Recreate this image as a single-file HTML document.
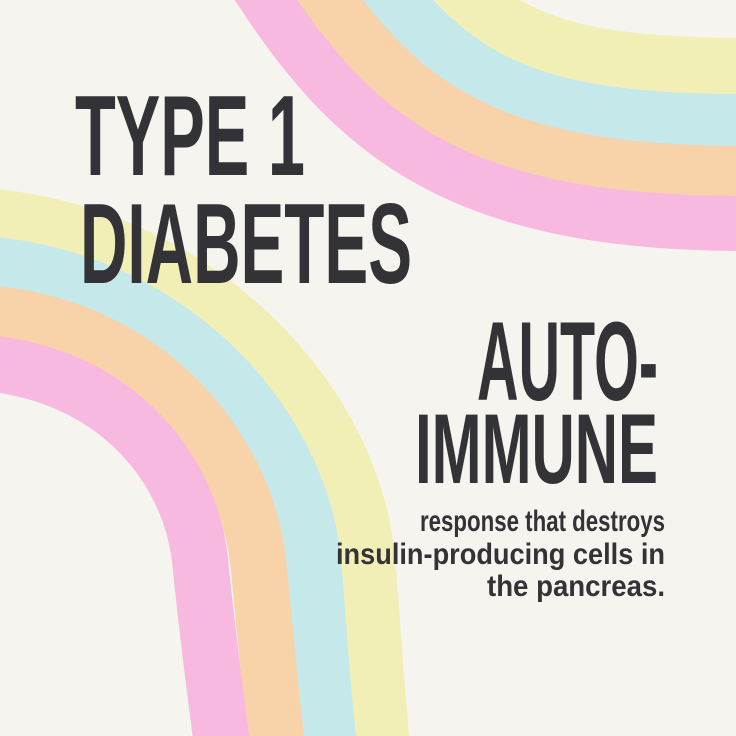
<!DOCTYPE html>
<html><head><meta charset="utf-8"><style>
html,body{margin:0;padding:0;background:#f6f4ee;}
svg{display:block}
.h{font-family:"Liberation Sans Narrow","Liberation Sans",sans-serif;font-weight:bold;fill:#333236}
.s{font-family:"Liberation Sans",sans-serif;font-weight:bold;fill:#333236;font-size:30px}
</style></head><body>
<svg width="736" height="736" viewBox="0 0 736 736">
<rect width="736" height="736" fill="#f6f4ee"/>
<g fill="none" stroke-width="56">
<path d="M225,-65 L265,-5 C360,140 470,223 745,223" stroke="#f7b9df"/>
<path d="M283,-65 L328,-5 C410,110 500,168 745,168" stroke="#f8d2a9"/>
<path d="M345,-67 L395,-5 C460,75 540,118 745,118" stroke="#c5e8ea"/>
<path d="M405,-67 L468,-5 C520,45 590,66 745,66" stroke="#f1efb5"/>
</g>
<g fill="none" stroke-width="56">
<path d="M-5,217 C210,240 355,410 367,560 C374,640 376,690 382,745" stroke="#f1efb5"/>
<path d="M-5,265 C180,285 300,430 313,560 C320,640 322,690 329,745" stroke="#c5e8ea"/>
<path d="M-5,314 C150,330 245,450 258,560 C266,640 270,690 277,745" stroke="#f8d2a9"/>
<path d="M-5,364 C120,380 190,470 200,560 C208,640 215,690 222,745" stroke="#f7b9df"/>
</g>
<text class="h" x="75" y="175" font-size="114" textLength="230" lengthAdjust="spacingAndGlyphs">TYPE 1</text>
<text class="h" x="80" y="283" font-size="114" textLength="332" lengthAdjust="spacingAndGlyphs">DIABETES</text>
<text class="h" x="477" y="400" font-size="112" textLength="181" lengthAdjust="spacingAndGlyphs">AUTO-</text>
<text class="h" x="415" y="483" font-size="99" textLength="243" lengthAdjust="spacingAndGlyphs">IMMUNE</text>
<text class="s" x="420" y="531" textLength="245" lengthAdjust="spacingAndGlyphs">response that destroys</text>
<text class="s" x="336" y="564" textLength="329" lengthAdjust="spacingAndGlyphs">insulin-producing cells in</text>
<text class="s" x="487" y="596" textLength="178" lengthAdjust="spacingAndGlyphs">the pancreas.</text>
</svg>
</body></html>
